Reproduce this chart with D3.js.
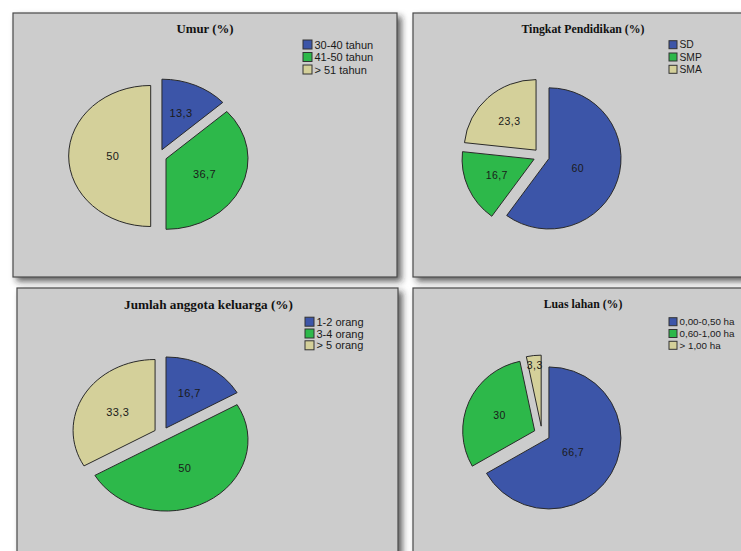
<!DOCTYPE html>
<html>
<head>
<meta charset="utf-8">
<script src="https://cdn.jsdelivr.net/npm/d3@7"></script>
<style>
  html, body { margin: 0; padding: 0; background: #ffffff; }
  svg { display: block; }
</style>
</head>
<body>
<svg id="chart" width="741" height="551"></svg>
<script>
// ---- data ----
const titleUmur = "Umur (%)";
const catUmur = ["30-40 tahun", "41-50 tahun", "> 51 tahun"];
const valUmur = [13.3, 36.7, 50];

const titlePendidikan = "Tingkat Pendidikan (%)";
const catPendidikan = ["SD", "SMP", "SMA"];
const valPendidikan = [60, 16.7, 23.3];

const titleKeluarga = "Jumlah anggota keluarga (%)";
const catKeluarga = ["1-2 orang", "3-4 orang", "> 5 orang"];
const valKeluarga = [16.7, 50, 33.3];

const titleLahan = "Luas lahan (%)";
const catLahan = ["0,00-0,50 ha", "0,60-1,00 ha", "> 1,00 ha"];
const valLahan = [66.7, 30, 3.3];

const sliceColors = ["#3c55a8", "#2db84a", "#d4d09a"];

// ---- layout (positions/styles) ----
const layouts = [
  {title: titleUmur, cats: catUmur, vals: valUmur,
   x: 13, y: 13, w: 384, h: 264, cx: 158.7, cy: 156, r: 82, k: 0.86,
   tx: 205, ty: 29, tSize: 12.8, lx: 303, ly: 44.5, lStep: 12.5, lSize: 11, sw: 9, labSize: 11, ex: 8},
  {title: titlePendidikan, cats: catPendidikan, vals: valPendidikan,
   x: 413, y: 13, w: 360, h: 264, cx: 541.4, cy: 156, r: 72, k: 0.98,
   tx: 583, ty: 29, tSize: 11.8, lx: 669, ly: 44.7, lStep: 12.3, lSize: 10.3, sw: 8, labSize: 10.5, ex: 8},
  {title: titleKeluarga, cats: catKeluarga, vals: valKeluarga,
   x: 17, y: 288, w: 381, h: 300, cx: 162, cy: 434, r: 82, k: 0.866,
   tx: 208.5, ty: 304, tSize: 13.2, lx: 305, ly: 321.7, lStep: 11.8, lSize: 11, sw: 9, labSize: 11, ex: 8},
  {title: titleLahan, cats: catLahan, vals: valLahan,
   x: 413, y: 288, w: 360, h: 300, cx: 542, cy: 434, r: 72, k: 0.986,
   tx: 583, ty: 304, tSize: 11.8, lx: 669, ly: 321.7, lStep: 11.8, lSize: 9.8, sw: 8, labSize: 10.5, ex: 8}
];

const svg = d3.select("#chart");
const defs = svg.append("defs");
const filt = defs.append("filter").attr("id", "shadow")
  .attr("x", "-10%").attr("y", "-10%").attr("width", "130%").attr("height", "130%");
filt.append("feDropShadow").attr("dx", 4).attr("dy", 4).attr("stdDeviation", 3)
  .attr("flood-color", "#222").attr("flood-opacity", 0.7);

const fmt = v => (Number.isInteger(v) ? d3.format("d")(v) : d3.format(".1f")(v)).replace(".", ",");
const pie = d3.pie().sort(null).value(d => d);

function labelFrac(a) {
  if (a < 0.4) return 0.86;
  const centroid = (2 * Math.sin(a / 2)) / (3 * a / 2);
  return (centroid + 0.5) / 2;
}

layouts.forEach(L => {
  const g = svg.append("g");
  // panel
  g.append("rect").attr("x", L.x).attr("y", L.y).attr("width", L.w).attr("height", L.h)
    .attr("fill", "#cccccc").attr("stroke", "#4a4a4a").attr("stroke-width", 1.2)
    .attr("filter", "url(#shadow)");

  // title
  g.append("text").attr("x", L.tx).attr("y", L.ty)
    .attr("text-anchor", "middle").attr("dominant-baseline", "central")
    .attr("font-family", "'Liberation Serif', 'Times New Roman', serif")
    .attr("font-weight", "bold").attr("font-size", L.tSize).attr("fill", "#111")
    .text(L.title);

  // pie
  const arcs = pie(L.vals);
  const arc = d3.arc().innerRadius(0).outerRadius(L.r);
  arcs.forEach((a, i) => {
    const mid = (a.startAngle + a.endAngle) / 2;
    const ox = Math.sin(mid) * L.ex, oy = -Math.cos(mid) * L.ex;
    g.append("path")
      .attr("d", arc(a))
      .attr("transform", `translate(${L.cx},${L.cy}) scale(1,${L.k}) translate(${ox},${oy})`)
      .attr("fill", sliceColors[i]).attr("stroke", "#2a2a2a").attr("stroke-width", 1)
      .attr("vector-effect", "non-scaling-stroke");
  });
  arcs.forEach((a, i) => {
    const mid = (a.startAngle + a.endAngle) / 2;
    const ang = a.endAngle - a.startAngle;
    const d = L.r * labelFrac(ang) + L.ex;
    g.append("text")
      .attr("x", L.cx + Math.sin(mid) * d)
      .attr("y", L.cy - Math.cos(mid) * d * L.k)
      .attr("text-anchor", "middle").attr("dominant-baseline", "central")
      .attr("font-family", "'Liberation Sans', Arial, sans-serif")
      .attr("font-size", L.labSize).attr("fill", "#1a1a1a")
      .attr("letter-spacing", 0.4)
      .text(fmt(L.vals[i]));
  });

  // legend
  L.cats.forEach((c, i) => {
    const yy = L.ly + i * L.lStep;
    g.append("rect").attr("x", L.lx).attr("y", yy - L.sw / 2).attr("width", L.sw).attr("height", L.sw)
      .attr("fill", sliceColors[i]).attr("stroke", "#333").attr("stroke-width", 1);
    g.append("text").attr("x", L.lx + L.sw + 2.5).attr("y", yy)
      .attr("dominant-baseline", "central")
      .attr("font-family", "'Liberation Sans', Arial, sans-serif")
      .attr("font-size", L.lSize).attr("fill", "#1a1a1a")
      .text(c);
  });
});
</script>
</body>
</html>
